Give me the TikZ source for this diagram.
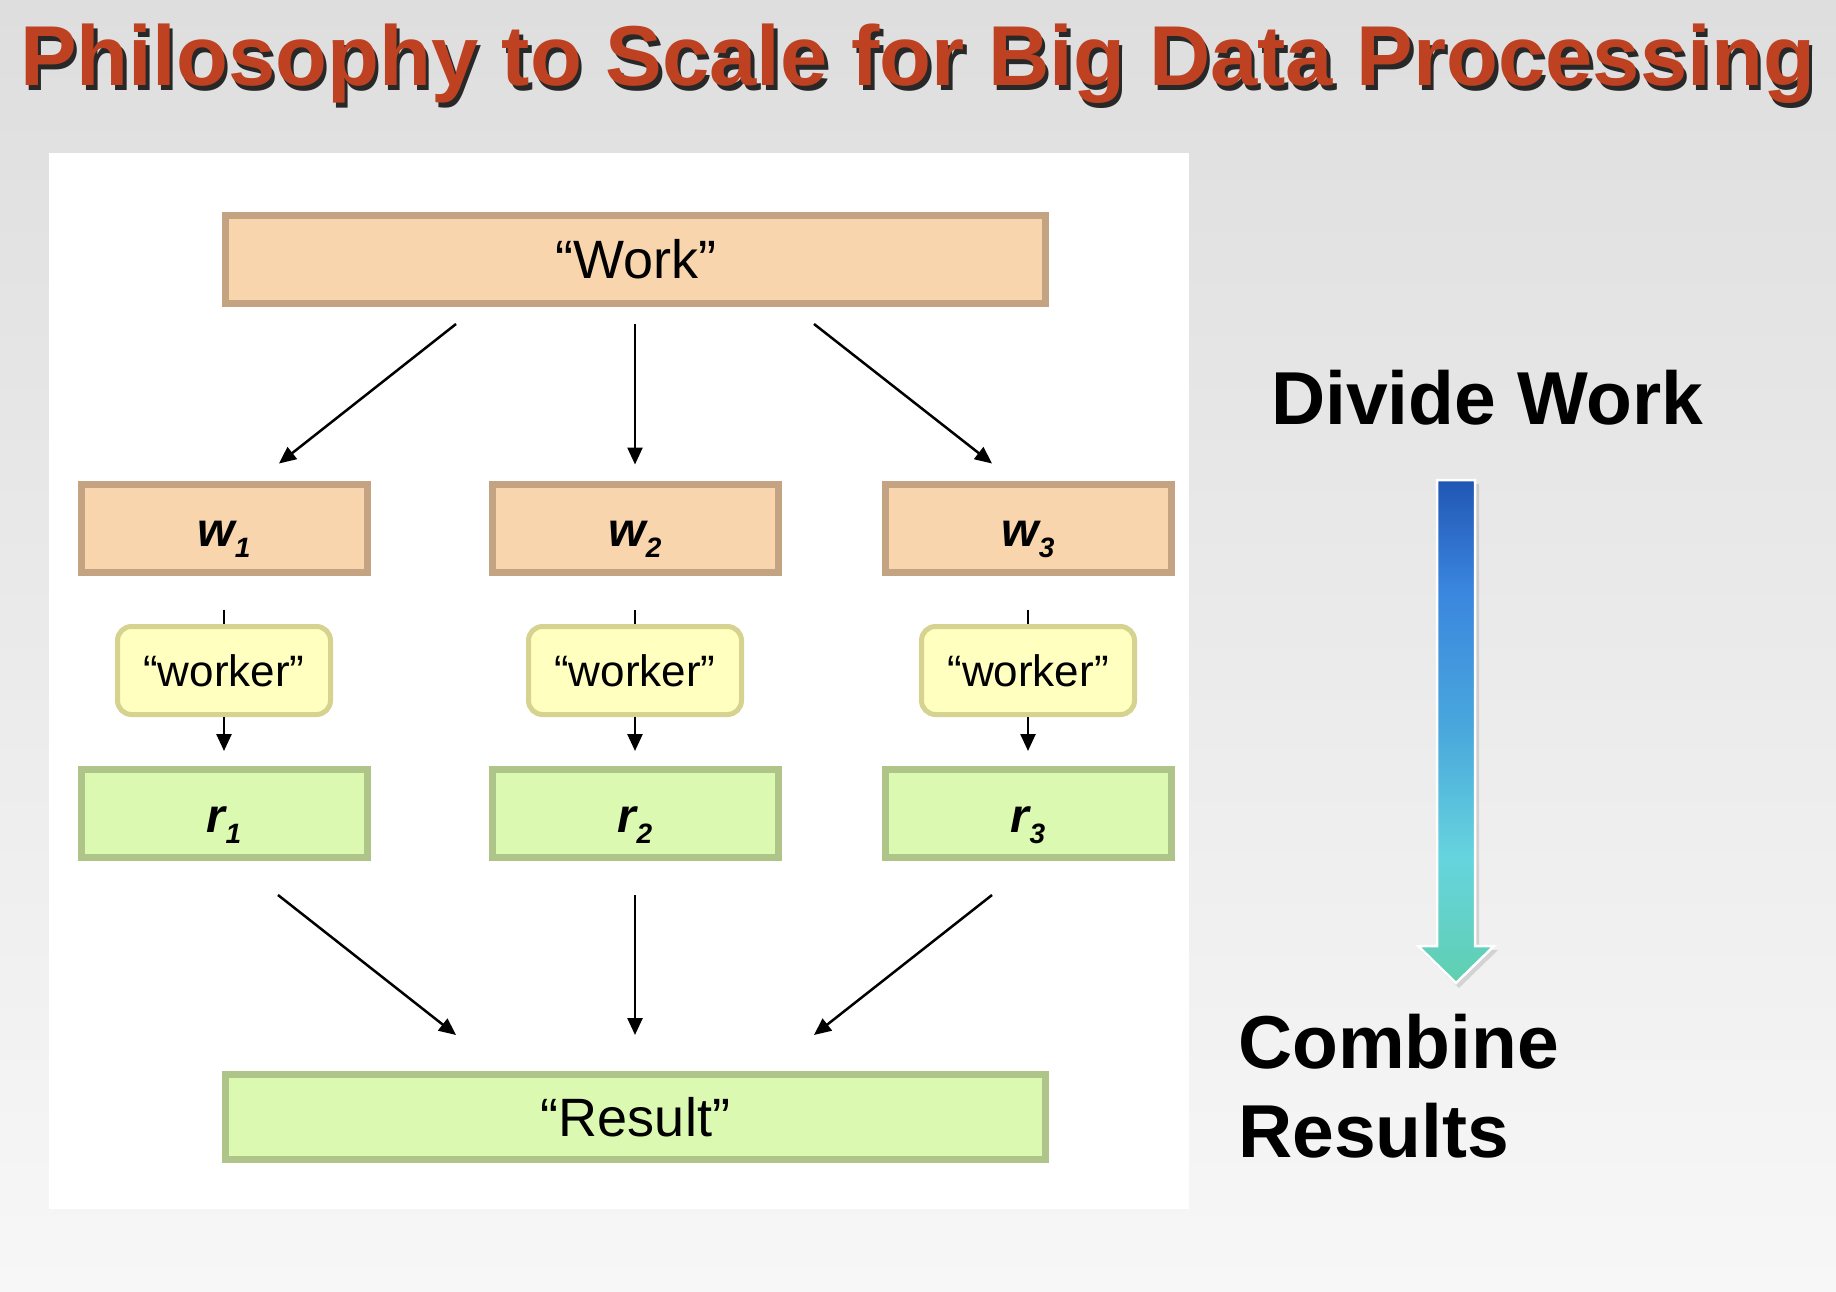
\documentclass[tikz,border=0pt]{standalone}
\usepackage{fontspec}
\setmainfont{Liberation Sans}
\usetikzlibrary{arrows.meta,calc}

\definecolor{bgtop}{RGB}{222,222,222}
\definecolor{bgbot}{RGB}{247,247,247}
\definecolor{titlered}{RGB}{190,66,33}
\definecolor{titleshadow}{RGB}{40,40,40}
\definecolor{wfill}{RGB}{248,213,172}
\definecolor{wdraw}{RGB}{196,163,131}
\definecolor{kfill}{RGB}{255,255,192}
\definecolor{kdraw}{RGB}{214,211,145}
\definecolor{rfill}{RGB}{219,249,177}
\definecolor{rdraw}{RGB}{175,196,137}
\definecolor{ag1}{RGB}{33,86,180}
\definecolor{ag2}{RGB}{58,134,223}
\definecolor{ag3}{RGB}{74,168,220}
\definecolor{ag4}{RGB}{102,212,222}
\definecolor{ag5}{RGB}{96,207,176}

\pgfdeclareverticalshading{arrowgrad}{100bp}{color(0bp)=(ag5); color(25bp)=(ag5); color(37.5bp)=(ag4); color(50bp)=(ag3); color(64bp)=(ag2); color(75bp)=(ag1); color(100bp)=(ag1)}

\newcommand\boxlab[2]{\fontsize{48}{52}\selectfont\bfseries\itshape #1\raisebox{-11pt}{\fontsize{28}{30}\selectfont #2}}
\newcommand\titletext{Philosophy to Scale for Big Data Processing}

\begin{document}
\begin{tikzpicture}[x=1pt,y=-1pt,
  box/.style={rectangle, line width=7pt, inner sep=0pt, font=\fontsize{54}{60}\selectfont},
  workbox/.style={box, draw=wdraw, fill=wfill},
  resbox/.style={box, draw=rdraw, fill=rfill},
  smallbox/.style={minimum width=286pt, minimum height=88pt, text height=48pt, text depth=11pt},
  workerbox/.style={rectangle, rounded corners=14pt, line width=5pt, draw=kdraw, fill=kfill,
     minimum width=213pt, minimum height=88pt, inner sep=0pt, font=\fontsize{44}{50}\selectfont},
  conn/.style={line width=2.5pt, -{Triangle[length=17pt,width=15pt]}},
  tickline/.style={line width=2.5pt},
  titlefont/.style={font=\fontsize{85}{90}\selectfont\bfseries, inner sep=0pt, anchor=base west},
  sidefont/.style={font=\fontsize{75}{89}\selectfont\bfseries, inner sep=0pt, anchor=base west, align=left}
]
\useasboundingbox (0,0) rectangle (1836,1292);
\shade[top color=bgtop, bottom color=bgbot] (0,0) rectangle (1836,1292);

% title with drop shadow (one text node)
\node[titlefont] (title) at (20,86)
  {\rlap{\hspace{3.5pt}\raisebox{-4.5pt}{\color{titleshadow}\titletext}}\textcolor{titlered}{\titletext}};

% white panel
\fill[white] (49,153) rectangle (1189,1209);

% boxes
\node[workbox, minimum width=820pt, minimum height=88pt] (work) at (635.5,259.5) {“Work”};

\node[workbox, smallbox] (w1) at (224,528) {\boxlab{w}{1}};
\node[workbox, smallbox] (w2) at (635,528) {\boxlab{w}{2}};
\node[workbox, smallbox] (w3) at (1028,528) {\boxlab{w}{3}};

\node[workerbox] (k1) at (224,670.5) {“worker”};
\node[workerbox] (k2) at (635,670.5) {“worker”};
\node[workerbox] (k3) at (1028,670.5) {“worker”};

\node[resbox, smallbox] (r1) at (224,813.5) {\boxlab{r}{1}};
\node[resbox, smallbox] (r2) at (635,813.5) {\boxlab{r}{2}};
\node[resbox, smallbox] (r3) at (1028,813.5) {\boxlab{r}{3}};

\node[resbox, minimum width=820pt, minimum height=85pt] (result) at (635.5,1117) {“Result”};

% connectors: Work -> w
\coordinate (a1s) at ($(work.south)+(-179.5,17)$);
\coordinate (a1e) at ($(w1.north)+(55,-17)$);
\coordinate (a3s) at ($(work.south)+(178.5,17)$);
\coordinate (a3e) at ($(w3.north)+(-36,-17)$);
\draw[conn] (a1s) -- (a1e);
\draw[conn, shorten <=17pt, shorten >=16pt] (work.south -| w2.north) -- (w2.north);
\draw[conn] (a3s) -- (a3e);

% w -> worker ticks, worker -> r arrows
\foreach \i in {1,2,3}{
  \draw[tickline, shorten <=34pt] (w\i.south) -- (k\i.north);
  \draw[conn, shorten >=15pt] (k\i.south) -- (r\i.north);
}

% r -> Result
\coordinate (b1s) at ($(r1.south)+(54,34)$);
\coordinate (b1e) at ($(result.north)+(-179.5,-36)$);
\coordinate (b3s) at ($(r3.south)+(-36,34)$);
\coordinate (b3e) at ($(result.north)+(178.5,-36)$);
\draw[conn] (b1s) -- (b1e);
\draw[conn, shorten <=34pt, shorten >=36pt] (r2.south) -- (result.north -| r2.south);
\draw[conn] (b3s) -- (b3e);

% right side texts
\node[sidefont] (divide) at (1271,424) {Divide Work};
\node[sidefont] (combine) at (1238,1157) {Combine\\Results};

% gradient arrow with shadow
\fill[black, opacity=0.12] (1440,484) -- (1479,484) -- (1479,950) -- (1498,950) -- (1459,988) -- (1420,950) -- (1440,950) -- cycle;
\shade[shading=arrowgrad, draw=white, line width=2.5pt, line join=miter]
  (1437,480) -- (1475,480) -- (1475,946) -- (1494,946) -- (1456,983) -- (1418,946) -- (1437,946) -- cycle;
\end{tikzpicture}
\end{document}
